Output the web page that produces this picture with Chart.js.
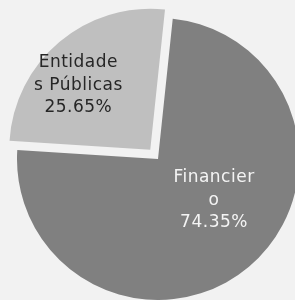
<!DOCTYPE html>
<html>
<head>
<meta charset="utf-8">
<script src="https://cdn.jsdelivr.net/npm/chart.js@4.4.1/dist/chart.umd.min.js"></script>
<style>
    html, body { margin: 0; padding: 0; background: #f2f2f2; }
    #wrap { width: 295px; height: 300px; position: relative; }
</style>
</head>
<body>
<div id="wrap"><canvas id="pie"></canvas></div>
<script>

// categories as shown on the chart (wrapped the same way)
const categories = [["Financier", "o"], ["Entidade", "s Públicas"]]
const shares = [74.35, 25.65]
const sliceColors = ["#808080", "#bfbfbf"]
const textColors = ["#f4f4f4", "#262626"]

// where each label sits: fraction of radius, and angle shift (deg) from mid angle
const labelPlace = [
    { frac: 0.49, shift: -14 },
    { frac: 0.69, shift: -7.5 }
]

const sliceLabels = {
    id: "sliceLabels",
    afterDatasetsDraw(chart){

        const ctx = chart.ctx
        const meta = chart.getDatasetMeta(0)
        const ds = chart.data.datasets[0]

        meta.data.forEach((arc, i)=>{

            const p = arc.getProps(["x", "y", "startAngle", "endAngle", "outerRadius"], true)
            const mid = (p.startAngle + p.endAngle) / 2
            const off = (arc.options.offset || 0) / 4

            const cx = p.x + Math.cos(mid) * off
            const cy = p.y + Math.sin(mid) * off

            const a = mid + labelPlace[i].shift * Math.PI / 180
            const r = p.outerRadius * labelPlace[i].frac

            const x = cx + Math.cos(a) * r
            const y = cy + Math.sin(a) * r

            const lines = [...chart.data.labels[i], ds.data[i].toFixed(2) + "%"]
            const lh = 22.5

            ctx.save()
            ctx.font = "17px 'DejaVu Sans'"
            ctx.letterSpacing = "0.5px"
            ctx.fillStyle = textColors[i]
            ctx.textAlign = "center"
            ctx.textBaseline = "middle"
            lines.forEach((t, k)=>{
                ctx.fillText(t, x, y + 1 + (k - (lines.length - 1) / 2) * lh)
            })
            ctx.restore()

        })
    }
}

new Chart(document.getElementById("pie"), {

    type: "pie",

    data: {
        labels: categories,
        datasets: [{
            data: shares,
            backgroundColor: sliceColors,
            borderWidth: 0,
            offset: [0, 48],
            hoverOffset: 0,
            clip: false
        }]
    },

    options: {
        responsive: true,
        maintainAspectRatio: false,
        animation: false,
        rotation: 6,
        radius: 141,
        layout: { padding: { left: 21, right: 0, top: 18, bottom: 0 } },
        plugins: {
            legend: { display: false },
            tooltip: { enabled: false }
        }
    },

    plugins: [sliceLabels]

})

</script>
</body>
</html>
